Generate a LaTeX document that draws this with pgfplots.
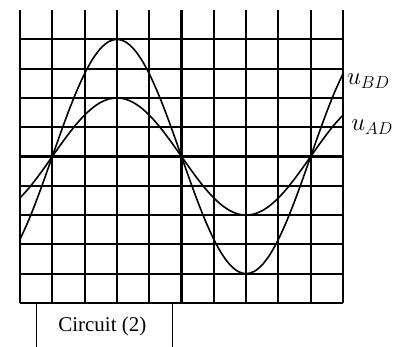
\documentclass[border=0pt]{standalone}
\usepackage{fontspec}
\setmainfont{Liberation Serif}
\usepackage{pgfplots}
\pgfplotsset{compat=1.18}

% u_BD : amplitude 4 div, u_AD : amplitude 2 div, period 8 div
\pgfplotstableread{
x      ubd     uad
-5.00 -2.828 -1.414
-4.75 -2.222 -1.111
-4.50 -1.531 -0.765
-4.25 -0.780 -0.390
-4.00  0.000  0.000
-3.75  0.780  0.390
-3.50  1.531  0.765
-3.25  2.222  1.111
-3.00  2.828  1.414
-2.75  3.326  1.663
-2.50  3.696  1.848
-2.25  3.923  1.962
-2.00  4.000  2.000
-1.75  3.923  1.962
-1.50  3.696  1.848
-1.25  3.326  1.663
-1.00  2.828  1.414
-0.75  2.222  1.111
-0.50  1.531  0.765
-0.25  0.780  0.390
 0.00  0.000  0.000
 0.25 -0.780 -0.390
 0.50 -1.531 -0.765
 0.75 -2.222 -1.111
 1.00 -2.828 -1.414
 1.25 -3.326 -1.663
 1.50 -3.696 -1.848
 1.75 -3.923 -1.962
 2.00 -4.000 -2.000
 2.25 -3.923 -1.962
 2.50 -3.696 -1.848
 2.75 -3.326 -1.663
 3.00 -2.828 -1.414
 3.25 -2.222 -1.111
 3.50 -1.531 -0.765
 3.75 -0.780 -0.390
 4.00  0.000  0.000
 4.25  0.780  0.390
 4.50  1.531  0.765
 4.75  2.222  1.111
 5.00  2.828  1.414
}\scope

\begin{document}
\begin{tikzpicture}
\useasboundingbox (-20pt,-43pt) rectangle (385pt,303pt);
\begin{axis}[
  at={(0,0)}, anchor=south west,
  scale only axis, width=323pt, height=293pt,
  xmin=-5, xmax=5, ymin=-5, ymax=5,
  axis line style={draw=none},
  xtick={-5,...,5}, ytick={-5,...,4},
  xticklabels={}, yticklabels={},
  major tick length=0pt,
  grid=major,
  grid style={black, line width=2pt},
  extra x ticks={0}, extra y ticks={0},
  extra x tick labels={}, extra y tick labels={},
  extra tick style={grid style={black, line width=3.4pt}},
  clip=false,
]
  \addplot[black, line width=1.6pt, smooth] table[x=x, y=ubd] {\scope};
  \addplot[black, line width=1.6pt, smooth] table[x=x, y=uad] {\scope};
  \node[anchor=base west, inner sep=0pt, font=\fontsize{27}{30}\selectfont]
    at (axis cs:5.12,2.46) {$u_{BD}$};
  \node[anchor=base west, inner sep=0pt, font=\fontsize{27}{30}\selectfont]
    at (axis cs:5.25,0.89) {$u_{AD}$};
  \draw[black, line width=1.4pt] (axis cs:-4.49,-5) -- (axis cs:-4.49,-6.5);
  \draw[black, line width=1.4pt] (axis cs:-0.28,-5) -- (axis cs:-0.28,-6.5);
  \node[font=\fontsize{21}{25}\selectfont, inner sep=0pt]
    at (axis cs:-2.45,-5.8) {Circuit (2)};
\end{axis}
\end{tikzpicture}
\end{document}
